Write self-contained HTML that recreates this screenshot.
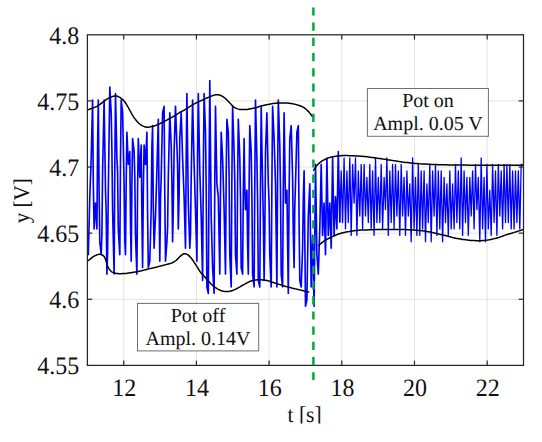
<!DOCTYPE html>
<html><head><meta charset="utf-8"><style>
html,body{margin:0;padding:0;background:#fff;width:542px;height:442px;overflow:hidden}
svg{display:block}
text{font-family:"Liberation Serif",serif;fill:#111;text-rendering:geometricPrecision}
</style></head><body>
<svg width="542" height="442" viewBox="0 0 542 442">
<defs><clipPath id="xlc"><rect x="0" y="380" width="542" height="43.4"/></clipPath></defs>
<rect width="542" height="442" fill="#fff"/>
<g stroke="#e3e3e3" stroke-width="1"><line x1="123.74" y1="34.8" x2="123.74" y2="365.4"/><line x1="196.43" y1="34.8" x2="196.43" y2="365.4"/><line x1="269.11" y1="34.8" x2="269.11" y2="365.4"/><line x1="341.79" y1="34.8" x2="341.79" y2="365.4"/><line x1="414.48" y1="34.8" x2="414.48" y2="365.4"/><line x1="487.16" y1="34.8" x2="487.16" y2="365.4"/><line x1="87.4" y1="299.28" x2="523.5" y2="299.28"/><line x1="87.4" y1="233.16" x2="523.5" y2="233.16"/><line x1="87.4" y1="167.04" x2="523.5" y2="167.04"/><line x1="87.4" y1="100.92" x2="523.5" y2="100.92"/></g>
<path d="M87.6,254.7 L88.3,254.7 L89.8,196.7 L91.2,158.0 L92.6,100.0 L93.3,182.3 L94.1,228.9 L95.5,203.1 L96.9,228.9 L97.6,145.3 L98.3,100.0 L99.1,190.6 L99.8,241.8 L101.2,254.7 L101.9,234.2 L102.6,170.9 L104.1,100.0 L105.5,190.2 L106.2,213.0 L106.9,274.1 L107.6,253.3 L108.3,190.2 L109.8,87.1 L111.2,112.8 L111.9,149.9 L112.6,209.6 L114.1,274.1 L114.8,167.7 L115.5,93.5 L116.9,158.0 L117.6,172.1 L118.3,228.9 L119.8,254.7 L120.5,159.2 L121.2,100.0 L122.6,112.8 L124.1,183.8 L124.8,240.2 L125.5,254.7 L126.2,181.2 L126.9,132.2 L128.3,164.4 L129.8,151.5 L130.5,222.5 L131.2,261.2 L131.9,186.2 L132.6,138.6 L134.1,151.5 L134.8,176.5 L135.5,235.4 L136.9,274.1 L137.6,189.0 L138.3,138.6 L139.8,177.3 L141.2,145.1 L141.9,217.5 L142.6,267.6 L143.3,193.0 L144.1,145.1 L145.5,164.4 L146.9,132.2 L147.6,214.0 L148.3,267.6 L149.8,261.2 L151.2,209.6 L151.9,146.6 L152.6,125.7 L153.3,206.4 L154.1,248.3 L155.5,216.0 L156.9,170.9 L158.3,119.3 L159.1,203.0 L159.8,261.2 L160.5,199.5 L161.2,177.3 L162.6,112.8 L164.1,106.4 L164.8,196.3 L165.5,261.2 L166.9,241.8 L167.6,227.4 L168.3,177.3 L169.8,112.8 L171.2,145.1 L171.9,181.1 L172.6,241.8 L173.3,207.7 L174.1,151.5 L175.5,106.4 L176.9,145.1 L177.6,166.4 L178.3,228.9 L179.1,197.1 L179.8,138.6 L181.2,112.8 L182.6,158.0 L184.1,196.7 L185.5,248.3 L186.2,157.5 L186.9,93.5 L188.3,203.1 L189.8,248.3 L190.5,234.6 L191.2,177.3 L192.6,100.0 L194.1,164.4 L195.5,209.6 L196.9,261.2 L197.6,156.7 L198.3,93.5 L199.8,170.9 L201.2,216.0 L202.6,280.5 L203.3,172.8 L204.1,93.5 L205.5,132.2 L206.2,188.0 L206.9,287.0 L208.3,293.4 L209.1,170.1 L209.8,80.6 L211.2,216.0 L212.6,267.6 L214.1,293.4 L214.8,181.5 L215.5,106.4 L216.9,183.8 L218.3,196.7 L219.8,274.1 L220.5,189.9 L221.2,132.2 L222.6,158.0 L224.1,209.6 L225.5,274.1 L226.2,175.3 L226.9,119.3 L228.3,132.2 L229.1,174.9 L229.8,254.7 L231.2,287.0 L231.9,175.1 L232.6,106.4 L234.1,151.5 L234.8,182.3 L235.5,254.7 L236.9,274.1 L237.6,182.4 L238.3,119.3 L239.8,158.0 L240.5,197.8 L241.2,267.6 L242.6,274.1 L243.3,193.5 L244.1,138.6 L244.8,186.7 L245.5,209.6 L246.9,190.2 L247.6,243.9 L248.3,274.1 L249.1,185.6 L249.8,125.7 L251.2,151.5 L251.9,195.2 L252.6,274.1 L254.1,287.0 L254.8,182.4 L255.5,100.0 L256.9,158.0 L257.6,200.8 L258.3,280.5 L259.8,287.0 L260.5,182.0 L261.2,106.4 L262.6,183.8 L263.3,217.7 L264.1,280.5 L264.8,236.0 L265.5,151.5 L266.9,112.8 L268.3,183.8 L269.1,203.0 L269.8,254.7 L271.2,287.0 L271.9,182.2 L272.6,106.4 L274.1,138.6 L275.5,183.8 L276.9,287.0 L277.6,177.2 L278.3,100.0 L279.8,145.1 L280.5,190.8 L281.2,274.1 L282.6,287.0 L283.3,188.3 L284.1,112.8 L285.5,203.1 L286.9,190.2 L288.3,293.4 L289.1,194.3 L289.8,138.6 L291.2,125.7 L292.6,177.3 L293.3,233.7 L294.1,267.6 L294.8,206.5 L295.5,183.8 L296.9,132.2 L298.3,125.7 L299.1,223.4 L299.8,280.5 L301.2,287.0 L302.6,248.3 L303.3,198.4 L304.1,170.9 L305.5,306.3 L306.9,299.9 L308.3,216.0 L309.8,183.8 L311.2,287.0 L312.6,235.4 L314.1,306.3 L315.5,164.4 L316.9,254.7 L318.3,274.1 L319.8,228.9 L321.2,164.4 L322.6,235.4 L324.1,203.1 L325.5,254.7 L326.9,158.0 L328.3,235.4 L329.8,203.1 L331.2,248.3 L332.6,158.0 L334.1,235.4 L335.5,196.7 L336.9,228.9 L338.3,151.5 L339.8,222.5" fill="none" stroke="#0000ff" stroke-width="1.65" stroke-linejoin="round"/>
<path d="M339.8,222.5 L341.2,170.9 L342.6,222.5 L344.1,158.0 L345.5,228.9 L346.9,170.9 L348.3,222.5 L349.8,158.0 L351.2,235.4 L352.6,164.4 L354.1,203.1 L355.5,158.0 L356.9,235.4 L358.3,170.9 L359.8,216.0 L361.2,164.4 L362.6,228.9 L364.1,164.4 L365.5,216.0 L366.9,177.3 L368.3,222.5 L369.8,164.4 L371.2,228.9 L372.6,170.9 L374.1,235.4 L375.5,158.0 L376.9,222.5 L378.3,177.3 L379.8,222.5 L381.2,164.4 L382.6,228.9 L384.1,177.3 L385.5,209.6 L386.9,158.0 L388.3,235.4 L389.8,170.9 L391.2,222.5 L392.6,164.4 L394.1,228.9 L395.5,164.4 L396.9,216.0 L398.3,170.9 L399.8,235.4 L401.2,164.4 L402.6,216.0 L404.1,177.3 L405.5,235.4 L406.9,170.9 L408.3,216.0 L409.8,183.8 L411.2,241.8 L412.6,158.0 L414.1,228.9 L415.5,177.3 L416.9,235.4 L418.3,164.4 L419.8,235.4 L421.2,170.9 L422.6,228.9 L424.1,170.9 L425.5,241.8 L426.9,183.8 L428.3,222.5 L429.8,164.4 L431.2,241.8 L432.6,170.9 L434.1,216.0 L435.5,164.4 L436.9,235.4 L438.3,170.9 L439.8,228.9 L441.2,170.9 L442.6,241.8 L444.1,177.3 L445.5,222.5 L446.9,183.8 L448.3,235.4 L449.8,170.9 L451.2,228.9 L452.6,183.8 L454.1,228.9 L455.5,164.4 L456.9,222.5 L458.3,170.9 L459.8,228.9 L461.2,158.0 L462.6,235.4 L464.1,170.9 L465.5,222.5 L466.9,177.3 L468.3,235.4 L469.8,177.3 L471.2,216.0 L472.6,170.9 L474.1,228.9 L475.5,164.4 L476.9,209.6 L478.3,177.3 L479.8,241.8 L481.2,158.0 L482.6,228.9 L484.1,177.3 L485.5,241.8 L486.9,164.4 L488.3,228.9 L489.8,190.2 L491.2,235.4 L492.6,164.4 L494.1,222.5 L495.5,170.9 L496.9,235.4 L498.3,164.4 L499.8,216.0 L501.2,170.9 L502.6,228.9 L504.1,164.4 L505.5,222.5 L506.9,164.4 L508.3,222.5 L509.8,164.4 L511.2,228.9 L512.6,170.9 L514.1,228.9 L515.5,170.9 L516.9,222.5 L518.3,170.9 L519.8,228.9 L521.2,164.4 L522.6,164.4" fill="none" stroke="#0000ff" stroke-width="1.3" stroke-linejoin="round"/>
<path d="M87.6,110.0 L87.7,109.9 L87.9,109.9 L88.1,109.8 L88.4,109.6 L88.8,109.5 L89.2,109.3 L89.8,109.1 L90.5,108.8 L91.2,108.6 L92.0,108.3 L92.8,108.0 L93.6,107.7 L94.3,107.4 L95.1,107.1 L95.8,106.8 L96.6,106.5 L97.4,106.1 L98.1,105.7 L98.8,105.2 L99.6,104.7 L100.3,104.1 L101.0,103.5 L101.8,103.0 L102.5,102.4 L103.2,101.8 L104.0,101.3 L104.7,100.7 L105.4,100.1 L106.2,99.6 L106.9,99.1 L107.6,98.7 L108.4,98.2 L109.2,97.8 L109.9,97.5 L110.7,97.2 L111.4,96.9 L112.1,96.6 L112.9,96.4 L113.6,96.2 L114.3,96.1 L115.1,96.0 L115.8,96.0 L116.5,96.1 L117.3,96.3 L118.0,96.5 L118.7,96.9 L119.5,97.2 L120.2,97.7 L120.9,98.2 L121.7,98.8 L122.5,99.4 L123.2,100.1 L124.0,100.9 L124.7,101.8 L125.4,102.8 L126.2,103.9 L126.9,105.2 L127.6,106.4 L128.4,107.7 L129.1,109.0 L129.8,110.3 L130.6,111.6 L131.3,113.0 L132.0,114.3 L132.8,115.6 L133.5,116.8 L134.2,117.9 L135.0,118.9 L135.7,119.8 L136.4,120.7 L137.2,121.5 L137.9,122.3 L138.6,123.0 L139.4,123.7 L140.1,124.3 L140.9,124.8 L141.6,125.3 L142.4,125.7 L143.1,126.1 L143.8,126.4 L144.6,126.7 L145.3,127.0 L146.1,127.1 L147.0,127.2 L148.0,127.2 L149.2,127.0 L150.5,126.8 L151.7,126.5 L152.9,126.3 L153.9,126.0 L154.8,125.7 L155.6,125.5 L156.3,125.2 L156.9,124.9 L157.6,124.6 L158.3,124.3 L159.0,124.0 L159.8,123.7 L160.5,123.3 L161.2,123.0 L162.0,122.7 L162.7,122.3 L163.4,121.9 L164.2,121.5 L164.9,121.1 L165.6,120.7 L166.4,120.3 L167.1,119.9 L167.8,119.5 L168.6,119.1 L169.3,118.7 L170.1,118.3 L170.9,117.9 L171.6,117.5 L172.3,117.1 L173.1,116.7 L173.8,116.2 L174.5,115.8 L175.3,115.3 L176.0,114.9 L176.7,114.4 L177.5,114.0 L178.2,113.5 L178.9,113.0 L179.7,112.5 L180.4,112.1 L181.1,111.7 L181.9,111.3 L182.7,110.9 L183.4,110.5 L184.2,110.1 L184.9,109.7 L185.6,109.2 L186.4,108.8 L187.1,108.3 L187.8,107.8 L188.6,107.3 L189.3,106.8 L190.0,106.3 L190.8,105.9 L191.5,105.5 L192.2,105.0 L193.0,104.6 L193.7,104.2 L194.4,103.8 L195.2,103.4 L195.9,103.0 L196.7,102.6 L197.4,102.3 L198.2,101.9 L199.0,101.5 L199.8,101.2 L200.6,100.8 L201.4,100.5 L202.2,100.1 L203.0,99.8 L203.8,99.4 L204.5,99.1 L205.2,98.7 L205.9,98.4 L206.7,98.0 L207.4,97.7 L208.1,97.4 L208.9,97.1 L209.7,96.7 L210.4,96.4 L211.2,96.2 L211.9,95.9 L212.6,95.6 L213.4,95.4 L214.1,95.1 L214.8,94.9 L215.6,94.8 L216.3,94.7 L217.0,94.7 L217.8,94.7 L218.5,94.8 L219.2,95.0 L220.0,95.2 L220.7,95.5 L221.4,95.8 L222.2,96.2 L222.9,96.7 L223.6,97.2 L224.4,97.7 L225.1,98.3 L225.8,98.9 L226.6,99.6 L227.3,100.4 L228.1,101.2 L228.9,101.9 L229.6,102.7 L230.3,103.5 L231.1,104.3 L231.8,105.1 L232.5,105.8 L233.3,106.5 L234.0,107.1 L234.7,107.6 L235.5,108.0 L236.2,108.3 L236.9,108.6 L237.7,108.9 L238.4,109.1 L239.1,109.3 L239.9,109.4 L240.7,109.5 L241.4,109.5 L242.2,109.6 L242.9,109.6 L243.6,109.6 L244.4,109.6 L245.1,109.6 L245.8,109.5 L246.6,109.5 L247.3,109.4 L248.0,109.3 L248.8,109.1 L249.5,109.0 L250.2,108.8 L251.0,108.7 L251.7,108.5 L252.5,108.4 L253.2,108.2 L254.0,108.1 L254.7,108.0 L255.5,107.9 L256.2,107.7 L256.9,107.5 L257.5,107.3 L258.1,107.0 L258.7,106.8 L259.3,106.5 L260.0,106.3 L260.7,106.1 L261.4,105.9 L262.2,105.7 L262.9,105.5 L263.7,105.4 L264.4,105.2 L265.1,105.0 L265.9,104.9 L266.6,104.7 L267.4,104.6 L268.2,104.4 L268.9,104.3 L269.6,104.2 L270.4,104.0 L271.1,103.9 L271.8,103.7 L272.6,103.6 L273.3,103.5 L274.0,103.4 L274.8,103.3 L275.5,103.3 L276.2,103.2 L277.0,103.1 L277.7,103.1 L278.4,103.1 L279.2,103.0 L279.9,103.0 L280.6,103.0 L281.4,103.0 L282.1,103.0 L282.8,103.0 L283.6,103.0 L284.4,103.0 L285.1,103.0 L285.9,103.1 L286.6,103.1 L287.3,103.1 L288.1,103.2 L288.8,103.2 L289.5,103.3 L290.3,103.4 L291.0,103.5 L291.7,103.6 L292.5,103.7 L293.2,103.9 L293.9,104.1 L294.7,104.2 L295.4,104.4 L296.1,104.6 L296.9,104.8 L297.6,105.0 L298.4,105.2 L299.2,105.4 L299.9,105.7 L300.6,106.0 L301.4,106.3 L302.1,106.6 L302.8,107.0 L303.6,107.4 L304.3,107.9 L305.0,108.4 L305.8,109.0 L306.5,109.7 L307.3,110.4 L308.0,111.1 L308.7,111.8 L309.4,112.6 L310.2,113.6 L310.9,114.5 L311.6,115.5 L312.2,116.2 L312.6,116.8" fill="none" stroke="#000" stroke-width="1.5" stroke-linejoin="round" stroke-linecap="round"/>
<path d="M87.6,261.0 L87.8,260.9 L88.0,260.8 L88.2,260.6 L88.5,260.4 L88.8,260.2 L89.2,259.9 L89.7,259.5 L90.2,259.1 L90.7,258.6 L91.3,258.1 L91.9,257.6 L92.5,257.2 L93.1,256.8 L93.6,256.5 L94.2,256.2 L94.7,255.8 L95.3,255.6 L95.9,255.3 L96.5,255.0 L97.2,254.8 L97.8,254.6 L98.4,254.4 L99.1,254.2 L99.7,254.2 L100.3,254.3 L100.9,254.4 L101.5,254.6 L102.1,254.8 L102.6,255.1 L103.1,255.5 L103.5,255.9 L103.9,256.3 L104.3,256.8 L104.6,257.4 L104.9,258.0 L105.3,258.8 L105.7,259.7 L106.0,260.8 L106.4,262.0 L106.7,263.3 L107.1,264.4 L107.5,265.5 L107.9,266.5 L108.4,267.4 L108.8,268.3 L109.3,269.1 L109.8,269.8 L110.3,270.5 L110.8,271.0 L111.3,271.5 L111.8,271.9 L112.4,272.2 L113.0,272.4 L113.6,272.7 L114.3,272.9 L114.9,273.1 L115.7,273.3 L116.4,273.4 L117.2,273.5 L118.0,273.6 L118.9,273.7 L119.7,273.7 L120.7,273.7 L121.6,273.7 L122.6,273.6 L123.5,273.6 L124.4,273.5 L125.3,273.5 L126.2,273.4 L127.2,273.3 L128.1,273.1 L129.1,273.0 L130.1,272.8 L131.2,272.7 L132.3,272.5 L133.5,272.3 L134.6,272.1 L135.7,271.9 L136.8,271.7 L138.0,271.4 L139.2,271.2 L140.3,271.0 L141.4,270.7 L142.4,270.5 L143.3,270.3 L144.1,270.1 L144.8,269.9 L145.5,269.7 L146.3,269.5 L147.0,269.3 L147.7,269.1 L148.5,268.9 L149.2,268.8 L149.9,268.6 L150.7,268.4 L151.6,268.2 L152.6,268.0 L153.7,267.7 L154.8,267.4 L156.0,267.2 L157.2,266.9 L158.3,266.6 L159.4,266.3 L160.5,266.0 L161.6,265.8 L162.7,265.5 L163.8,265.2 L164.9,264.9 L166.0,264.6 L167.2,264.3 L168.4,264.0 L169.5,263.7 L170.6,263.4 L171.6,263.0 L172.5,262.6 L173.2,262.3 L173.9,261.9 L174.6,261.5 L175.3,261.0 L176.0,260.5 L176.7,259.9 L177.5,259.1 L178.3,258.3 L179.0,257.5 L179.7,256.7 L180.4,256.1 L181.0,255.6 L181.6,255.1 L182.2,254.6 L182.7,254.3 L183.3,254.0 L183.8,253.8 L184.4,253.7 L184.9,253.7 L185.5,253.8 L186.0,253.9 L186.6,254.1 L187.1,254.4 L187.7,254.7 L188.2,255.1 L188.8,255.6 L189.3,256.1 L189.8,256.6 L190.4,257.2 L191.0,257.8 L191.5,258.5 L192.1,259.3 L192.6,260.0 L193.2,260.8 L193.7,261.6 L194.2,262.4 L194.8,263.2 L195.3,264.0 L195.9,264.9 L196.4,265.7 L197.0,266.6 L197.6,267.5 L198.1,268.5 L198.7,269.5 L199.3,270.4 L199.8,271.3 L200.4,272.1 L200.9,272.8 L201.4,273.4 L201.9,273.9 L202.4,274.4 L202.9,274.9 L203.5,275.5 L204.1,276.2 L204.7,276.9 L205.4,277.6 L206.0,278.4 L206.7,279.1 L207.4,279.9 L208.1,280.7 L208.9,281.5 L209.6,282.4 L210.4,283.2 L211.1,284.0 L211.9,284.7 L212.6,285.4 L213.4,286.0 L214.1,286.6 L214.8,287.2 L215.6,287.7 L216.3,288.2 L217.0,288.7 L217.8,289.1 L218.5,289.4 L219.2,289.8 L220.0,290.1 L220.7,290.4 L221.4,290.7 L222.2,290.9 L222.9,291.1 L223.6,291.3 L224.4,291.4 L225.1,291.5 L225.8,291.6 L226.6,291.6 L227.3,291.6 L228.1,291.5 L228.9,291.4 L229.6,291.3 L230.3,291.1 L231.1,291.0 L231.8,290.7 L232.5,290.5 L233.3,290.2 L234.0,289.9 L234.7,289.6 L235.5,289.2 L236.2,288.9 L236.9,288.5 L237.7,288.1 L238.4,287.7 L239.1,287.3 L239.9,286.9 L240.7,286.4 L241.4,286.0 L242.2,285.5 L242.9,285.1 L243.6,284.7 L244.4,284.3 L245.1,283.9 L245.8,283.5 L246.6,283.1 L247.3,282.7 L248.0,282.3 L248.8,282.0 L249.5,281.6 L250.2,281.3 L251.0,281.0 L251.7,280.7 L252.4,280.5 L253.2,280.3 L253.9,280.2 L254.7,280.1 L255.5,280.0 L256.2,279.9 L256.9,279.8 L257.7,279.8 L258.4,279.8 L259.2,279.8 L259.9,279.8 L260.6,279.8 L261.3,279.8 L261.9,279.8 L262.5,279.9 L263.1,279.9 L263.7,280.0 L264.4,280.1 L265.1,280.2 L265.9,280.3 L266.6,280.5 L267.4,280.6 L268.1,280.8 L268.9,281.0 L269.6,281.2 L270.4,281.5 L271.1,281.7 L271.8,282.0 L272.6,282.2 L273.3,282.5 L274.0,282.7 L274.8,283.0 L275.5,283.2 L276.2,283.4 L277.0,283.7 L277.7,283.9 L278.4,284.1 L279.2,284.4 L279.9,284.6 L280.6,284.8 L281.4,285.1 L282.1,285.3 L282.8,285.5 L283.6,285.7 L284.4,286.0 L285.1,286.2 L285.9,286.4 L286.6,286.6 L287.3,286.8 L288.1,287.0 L288.8,287.2 L289.5,287.4 L290.3,287.6 L291.0,287.8 L291.7,288.0 L292.5,288.2 L293.2,288.4 L293.9,288.5 L294.7,288.7 L295.4,288.9 L296.1,289.1 L296.9,289.2 L297.6,289.4 L298.4,289.6 L299.2,289.7 L299.9,289.9 L300.6,290.1 L301.4,290.3 L302.1,290.4 L302.8,290.6 L303.6,290.8 L304.3,291.0 L305.1,291.2 L305.9,291.4 L306.8,291.6 L307.6,291.8 L308.2,292.0 L308.7,292.1" fill="none" stroke="#000" stroke-width="1.5" stroke-linejoin="round" stroke-linecap="round"/>
<path d="M313.6,170.2 L314.0,169.6 L314.6,168.6 L315.3,167.6 L316.1,166.4 L317.0,165.3 L317.8,164.4 L318.7,163.6 L319.5,162.8 L320.5,162.1 L321.5,161.4 L322.5,160.7 L323.6,160.1 L324.8,159.5 L326.0,158.9 L327.3,158.4 L328.6,157.9 L330.0,157.4 L331.4,157.0 L332.9,156.7 L334.5,156.4 L336.1,156.2 L337.8,156.0 L339.5,155.8 L341.1,155.7 L342.7,155.6 L344.3,155.6 L346.0,155.6 L347.6,155.6 L349.2,155.7 L350.8,155.7 L352.4,155.7 L354.0,155.8 L355.6,155.9 L357.2,156.0 L358.8,156.1 L360.4,156.2 L362.0,156.3 L363.6,156.5 L365.2,156.6 L366.9,156.8 L368.5,157.0 L370.1,157.2 L371.7,157.4 L373.3,157.6 L375.0,157.9 L376.6,158.1 L378.2,158.4 L379.8,158.6 L381.4,158.8 L383.0,159.1 L384.6,159.3 L386.3,159.6 L387.9,159.9 L389.5,160.1 L391.1,160.3 L392.7,160.6 L394.4,160.8 L396.0,161.0 L397.6,161.3 L399.2,161.5 L400.8,161.7 L402.5,162.0 L404.1,162.2 L405.8,162.4 L407.4,162.6 L408.9,162.8 L410.2,163.0 L411.3,163.1 L412.4,163.2 L413.6,163.3 L415.1,163.5 L417.0,163.6 L419.4,163.8 L422.3,163.9 L425.4,164.1 L428.7,164.3 L432.0,164.5 L435.3,164.6 L438.6,164.7 L441.9,164.8 L445.3,164.8 L448.8,164.9 L452.2,165.0 L455.6,165.0 L459.0,165.0 L462.4,165.1 L465.8,165.1 L469.1,165.2 L472.5,165.2 L475.9,165.2 L479.2,165.2 L482.4,165.2 L485.6,165.2 L488.9,165.2 L492.4,165.2 L496.1,165.2 L500.4,165.2 L505.4,165.2 L510.6,165.2 L515.4,165.2 L519.6,165.2 L522.5,165.2" fill="none" stroke="#000" stroke-width="1.5" stroke-linejoin="round" stroke-linecap="round"/>
<path d="M318.8,245.3 L319.3,244.9 L319.9,244.3 L320.7,243.6 L321.6,242.9 L322.6,242.1 L323.6,241.4 L324.7,240.7 L325.9,240.0 L327.2,239.2 L328.5,238.5 L330.0,237.8 L331.4,237.1 L332.9,236.4 L334.5,235.7 L336.1,235.0 L337.8,234.3 L339.5,233.7 L341.1,233.2 L342.7,232.8 L344.3,232.4 L346.0,232.1 L347.6,231.8 L349.2,231.6 L350.8,231.3 L352.4,231.0 L354.0,230.8 L355.6,230.6 L357.2,230.4 L358.8,230.2 L360.4,230.1 L362.0,230.0 L363.6,229.9 L365.2,229.9 L366.9,229.9 L368.5,229.8 L370.1,229.8 L371.7,229.7 L373.3,229.7 L375.0,229.6 L376.6,229.5 L378.2,229.4 L379.8,229.4 L381.4,229.4 L383.0,229.4 L384.6,229.4 L386.3,229.4 L387.9,229.4 L389.5,229.4 L391.1,229.4 L392.7,229.4 L394.4,229.4 L396.0,229.4 L397.6,229.4 L399.2,229.4 L400.8,229.4 L402.5,229.5 L404.1,229.6 L405.8,229.6 L407.4,229.7 L408.9,229.8 L410.3,229.9 L411.7,229.9 L413.0,230.0 L414.4,230.1 L415.7,230.2 L417.0,230.3 L418.3,230.4 L419.6,230.5 L420.9,230.6 L422.2,230.7 L423.6,230.9 L425.1,231.1 L426.7,231.4 L428.3,231.7 L430.1,232.0 L431.8,232.4 L433.6,232.8 L435.3,233.2 L437.0,233.6 L438.7,234.0 L440.4,234.4 L442.0,234.8 L443.7,235.2 L445.4,235.6 L447.1,236.0 L448.8,236.5 L450.5,236.9 L452.2,237.4 L453.9,237.8 L455.6,238.2 L457.3,238.5 L459.0,238.8 L460.6,239.1 L462.3,239.4 L464.0,239.6 L465.7,239.8 L467.4,240.0 L469.1,240.2 L470.8,240.4 L472.5,240.5 L474.2,240.6 L475.9,240.7 L477.6,240.7 L479.3,240.7 L481.0,240.7 L482.6,240.6 L484.3,240.5 L486.0,240.3 L487.7,240.1 L489.4,239.8 L491.0,239.4 L492.7,239.1 L494.4,238.6 L496.1,238.2 L497.8,237.7 L499.5,237.2 L501.2,236.6 L502.9,236.0 L504.6,235.4 L506.3,234.8 L508.0,234.3 L509.8,233.7 L511.6,233.2 L513.3,232.6 L514.9,232.1 L516.4,231.7 L517.7,231.3 L519.0,230.9 L520.1,230.5 L521.1,230.2 L521.9,229.9 L522.5,229.7" fill="none" stroke="#000" stroke-width="1.5" stroke-linejoin="round" stroke-linecap="round"/>
<g stroke="#262626" stroke-width="1.2"><line x1="123.74" y1="365.4" x2="123.74" y2="360.59999999999997"/><line x1="123.74" y1="34.8" x2="123.74" y2="39.599999999999994"/><line x1="196.43" y1="365.4" x2="196.43" y2="360.59999999999997"/><line x1="196.43" y1="34.8" x2="196.43" y2="39.599999999999994"/><line x1="269.11" y1="365.4" x2="269.11" y2="360.59999999999997"/><line x1="269.11" y1="34.8" x2="269.11" y2="39.599999999999994"/><line x1="341.79" y1="365.4" x2="341.79" y2="360.59999999999997"/><line x1="341.79" y1="34.8" x2="341.79" y2="39.599999999999994"/><line x1="414.48" y1="365.4" x2="414.48" y2="360.59999999999997"/><line x1="414.48" y1="34.8" x2="414.48" y2="39.599999999999994"/><line x1="487.16" y1="365.4" x2="487.16" y2="360.59999999999997"/><line x1="487.16" y1="34.8" x2="487.16" y2="39.599999999999994"/><line x1="87.4" y1="299.28" x2="92.2" y2="299.28"/><line x1="523.5" y1="299.28" x2="518.7" y2="299.28"/><line x1="87.4" y1="233.16" x2="92.2" y2="233.16"/><line x1="523.5" y1="233.16" x2="518.7" y2="233.16"/><line x1="87.4" y1="167.04" x2="92.2" y2="167.04"/><line x1="523.5" y1="167.04" x2="518.7" y2="167.04"/><line x1="87.4" y1="100.92" x2="92.2" y2="100.92"/><line x1="523.5" y1="100.92" x2="518.7" y2="100.92"/></g>
<rect x="87.4" y="34.8" width="436.10" height="330.60" fill="none" stroke="#262626" stroke-width="1.25"/>
<line x1="313.4" y1="7.4" x2="313.4" y2="380" stroke="#00a940" stroke-width="2.5" stroke-dasharray="8.2 7.0"/>
<rect x="367.4" y="88.5" width="121.0" height="47.8" fill="#fff" stroke="#6e6e6e" stroke-width="1"/>
<rect x="137.5" y="303.4" width="121.2" height="47.5" fill="#fff" stroke="#6e6e6e" stroke-width="1"/>
<g font-size="24">
<text transform="translate(79.3,43.6) scale(1,1.045)" text-anchor="end">4.8</text><text transform="translate(79.3,109.7) scale(1,1.045)" text-anchor="end">4.75</text><text transform="translate(79.3,175.8) scale(1,1.045)" text-anchor="end">4.7</text><text transform="translate(79.3,242.0) scale(1,1.045)" text-anchor="end">4.65</text><text transform="translate(79.3,308.1) scale(1,1.045)" text-anchor="end">4.6</text><text transform="translate(79.3,374.2) scale(1,1.045)" text-anchor="end">4.55</text><text transform="translate(124.3,395.9) scale(1,1.045)" text-anchor="middle">12</text><text transform="translate(197.0,395.9) scale(1,1.045)" text-anchor="middle">14</text><text transform="translate(269.7,395.9) scale(1,1.045)" text-anchor="middle">16</text><text transform="translate(342.4,395.9) scale(1,1.045)" text-anchor="middle">18</text><text transform="translate(415.1,395.9) scale(1,1.045)" text-anchor="middle">20</text><text transform="translate(487.8,395.9) scale(1,1.045)" text-anchor="middle">22</text><g clip-path="url(#xlc)"><text transform="translate(304.6,421.6) scale(1,1.05)" text-anchor="middle" font-size="21.5">t [s]</text></g><text transform="translate(28.8,200.7) rotate(-90) scale(1,1.07)" text-anchor="middle" font-size="21">y [V]</text><text x="428" y="107" text-anchor="middle" font-size="20">Pot on</text><text x="428" y="130.2" text-anchor="middle" font-size="20">Ampl. 0.05 V</text><text x="198" y="321.9" text-anchor="middle" font-size="20">Pot off</text><text x="198" y="345.2" text-anchor="middle" font-size="20">Ampl. 0.14V</text>
</g>
</svg>
</body></html>
